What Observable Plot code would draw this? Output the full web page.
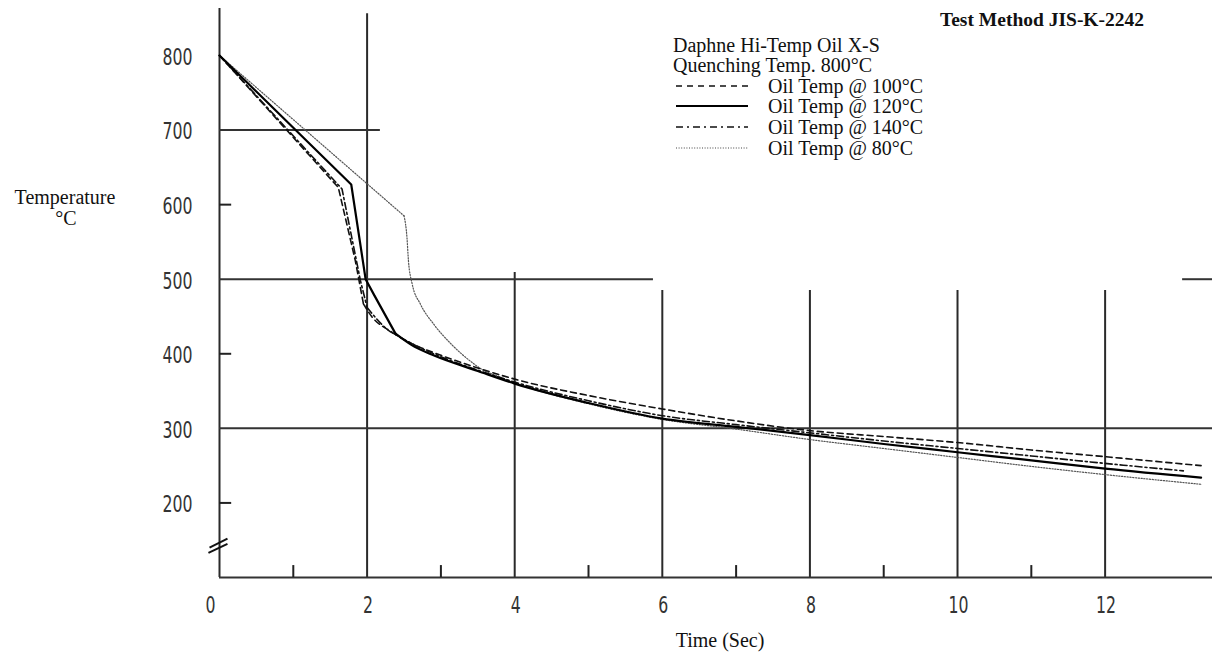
<!DOCTYPE html>
<html>
<head>
<meta charset="utf-8">
<script src="https://cdn.jsdelivr.net/npm/d3@7"></script>
<script src="https://cdn.jsdelivr.net/npm/@observablehq/plot@0.6"></script>
<style>
  html, body { margin: 0; padding: 0; background: #fff; }
  #wrap { position: relative; width: 1212px; height: 656px; overflow: hidden; }
  #wrap > svg { position: absolute; left: 0; top: 0; }
  .serif { position: absolute; font-family: "Liberation Serif", "DejaVu Serif", serif; font-size: 20px; color: #111; white-space: nowrap; line-height: 20px; }
  .legrow { position: absolute; left: 676px; height: 20px; display: flex; align-items: center; }
  .legrow span { font-family: "Liberation Serif", serif; font-size: 20px; color: #111; margin-left: 20px; white-space: nowrap; }
</style>
</head>
<body>
<div id="wrap"></div>
<script>
// ---- data ----
const series = ["Oil Temp @ 100°C", "Oil Temp @ 120°C", "Oil Temp @ 140°C", "Oil Temp @ 80°C"];

const time100 = [0, 1.61, 1.84, 1.95, 2.07, 2.32, 2.6, 3, 3.5, 4, 5, 6, 7, 8, 9, 10, 11, 12, 13.3];
const temp100 = [800, 623, 525, 467, 449, 430, 414, 398, 381, 366, 344, 326, 310, 297, 289, 281, 271, 262, 250];

const time120 = [0, 1.785, 1.98, 2.1, 2.385, 2.6, 2.9, 3.5, 4, 5, 6, 7, 8, 9, 10, 11, 12, 13.3];
const temp120 = [800, 627, 500, 478, 427, 412, 398, 377, 360, 334, 313, 302, 291, 279, 268, 257, 246, 234];

const time140 = [0, 1.66, 1.91, 2.0, 2.27, 2.45, 2.6, 3, 3.5, 4, 5, 6, 7, 8, 9, 10, 11, 12, 13.06];
const temp140 = [800, 621, 498, 462, 433, 422, 414, 396, 378, 362, 337, 317, 305, 294, 283, 273, 263, 253, 243];

const time80 = [0, 2.5, 2.54, 2.56, 2.61, 2.72, 2.9, 3.13, 3.44, 3.54, 3.8, 4, 5, 6, 7, 8, 9, 10, 11, 12, 13.3];
const temp80 = [800, 585, 556, 525, 494, 467, 440, 414, 387, 380, 369, 361, 333, 312, 299, 285, 273, 261, 249, 238, 225];

// index of the last point of the straight (pre-knee) part of each curve
const straightEnd = [3, 4, 3, 1];

const xTickLabels = [2, 4, 6, 8, 10, 12];
const xOriginLabel = [0];
const yTickLabels = [200, 300, 400, 500, 600, 700, 800];
const xMinorTicks = [1, 3, 5, 7, 9, 11];
const yMinorTicks = [200, 400, 600];

// grid segments (as drawn in the original: partial lines)
const vGridX  = [0, 2, 4, 6, 8, 10, 12];
const vGridTo = [863, 856, 509, 485, 485, 485, 485];
const hGridY    = [700, 500, 500, 300, 100];
const hGridFrom = [0, 0, 13.05, 0, 0];
const hGridTo   = [2.18, 5.88, 13.455, 13.455, 13.455];

// axis break marks
const breakX1 = [-0.135, -0.15];
const breakX2 = [0.108, 0.108];
const breakY1 = [140, 133];
const breakY2 = [152, 145];

// ---- build tables ----
function toRows(ts, vs, name) { return ts.map((t, i) => ({ t, v: vs[i], s: name })); }
const allRows = [
  toRows(time100, temp100, series[0]),
  toRows(time120, temp120, series[1]),
  toRows(time140, temp140, series[2]),
  toRows(time80,  temp80,  series[3])
];
const heads = allRows.map((r, i) => r.slice(0, straightEnd[i] + 1));
const tails = allRows.map((r, i) => r.slice(straightEnd[i]));

const styles = [
  { stroke: "#111", strokeWidth: 1.6, strokeDasharray: "6,4" },
  { stroke: "#000", strokeWidth: 2.2 },
  { stroke: "#111", strokeWidth: 1.6, strokeDasharray: "7,3,2,3" },
  { stroke: "#555", strokeWidth: 1.2, strokeDasharray: "1.2,1.6" }
];
const drawOrder = [3, 0, 2, 1];
const curveMarks = drawOrder.flatMap(i => [
  Plot.line(heads[i], { x: "t", y: "v", curve: "linear", ...styles[i] }),
  Plot.line(tails[i], { x: "t", y: "v", curve: "monotone-x", ...styles[i] })
]);

const vGrid = vGridX.map((x, i) => ({ x, y2: vGridTo[i] }));
const hGrid = hGridY.map((y, i) => ({ y, x1: hGridFrom[i], x2: hGridTo[i] }));
const breaks = breakX1.map((x1, i) => ({ x1, x2: breakX2[i], y1: breakY1[i], y2: breakY2[i] }));

const tickFont = "'DejaVu Sans Condensed', 'DejaVu Sans', sans-serif";

const chart = Plot.plot({
  width: 1212,
  height: 656,
  marginLeft: 219,
  marginRight: 0,
  marginTop: 0,
  marginBottom: 79,
  x: { domain: [0, 13.455], axis: null },
  y: { domain: [100, 873.75], axis: null },
  style: { background: "white", overflow: "visible" },
  marks: [
    Plot.ruleX(vGrid, { x: "x", y1: 100, y2: "y2", stroke: "#2a2a2a", strokeWidth: 2 }),
    Plot.ruleY(hGrid, { y: "y", x1: "x1", x2: "x2", stroke: "#333", strokeWidth: 2 }),
    Plot.ruleX(xMinorTicks, { x: d => d, y1: 100, y2: 116, stroke: "#222", strokeWidth: 2 }),
    Plot.ruleY(yMinorTicks, { y: d => d, x1: 0, x2: 0.165, stroke: "#222", strokeWidth: 2 }),
    Plot.link(breaks, { x1: "x1", x2: "x2", y1: "y1", y2: "y2", stroke: "#111", strokeWidth: 2 }),
    ...curveMarks,
    Plot.text(xTickLabels, { x: d => d, y: 100, text: d => String(d), dy: 28, dx: 1,
      fontSize: 23, fill: "#333", fontFamily: tickFont }),
    Plot.text(xOriginLabel, { x: d => d, y: 100, text: d => String(d), dy: 28, dx: -9,
      fontSize: 23, fill: "#333", fontFamily: tickFont }),
    Plot.text(yTickLabels, { x: 0, y: d => d, text: d => String(d), dx: -42, dy: 2,
      fontSize: 23, fill: "#333", fontFamily: tickFont })
  ]
});
const wrap = document.getElementById("wrap");
wrap.appendChild(chart);

// narrow the numeric tick labels to match the condensed face of the original
chart.querySelectorAll("text").forEach(t => {
  const s = t.textContent;
  if (/^\d+$/.test(s)) {
    t.setAttribute("textLength", s.length * 10);
    t.setAttribute("lengthAdjust", "spacingAndGlyphs");
  }
});

// ---- text overlays ----
function addText(html, left, top, extra) {
  const d = document.createElement("div");
  d.className = "serif";
  d.innerHTML = html;
  d.style.left = left + "px";
  d.style.top = top + "px";
  if (extra) Object.assign(d.style, extra);
  wrap.appendChild(d);
  return d;
}
addText("Test Method JIS-K-2242", 940, 10, { fontWeight: "bold", fontSize: "19.5px" });
addText("Daphne Hi-Temp Oil X-S", 673, 35);
addText("Quenching Temp. 800°C", 673, 55);
addText("Temperature", 65, 187, { transform: "translateX(-50%)" });
addText("°C", 66, 208, { transform: "translateX(-50%)" });
addText("Time (Sec)", 720, 630, { transform: "translateX(-50%)" });

const legendDash = ["6,5", null, "7,4,2,4", "1,1.6"];
const legendWidth = [1.6, 2, 1.6, 1.2];
const legendColor = ["#111", "#000", "#111", "#444"];
const legendTop = [76, 96, 117, 138];
series.forEach((name, i) => {
  const row = document.createElement("div");
  row.className = "legrow";
  row.style.top = legendTop[i] + "px";
  const ns = "http://www.w3.org/2000/svg";
  const sv = document.createElementNS(ns, "svg");
  sv.setAttribute("width", 72); sv.setAttribute("height", 10);
  const ln = document.createElementNS(ns, "line");
  ln.setAttribute("x1", 0); ln.setAttribute("x2", 72);
  ln.setAttribute("y1", 5); ln.setAttribute("y2", 5);
  ln.setAttribute("stroke", legendColor[i]);
  ln.setAttribute("stroke-width", legendWidth[i]);
  if (legendDash[i]) ln.setAttribute("stroke-dasharray", legendDash[i]);
  sv.appendChild(ln);
  row.appendChild(sv);
  const sp = document.createElement("span");
  sp.textContent = name;
  row.appendChild(sp);
  wrap.appendChild(row);
});
</script>
</body>
</html>
